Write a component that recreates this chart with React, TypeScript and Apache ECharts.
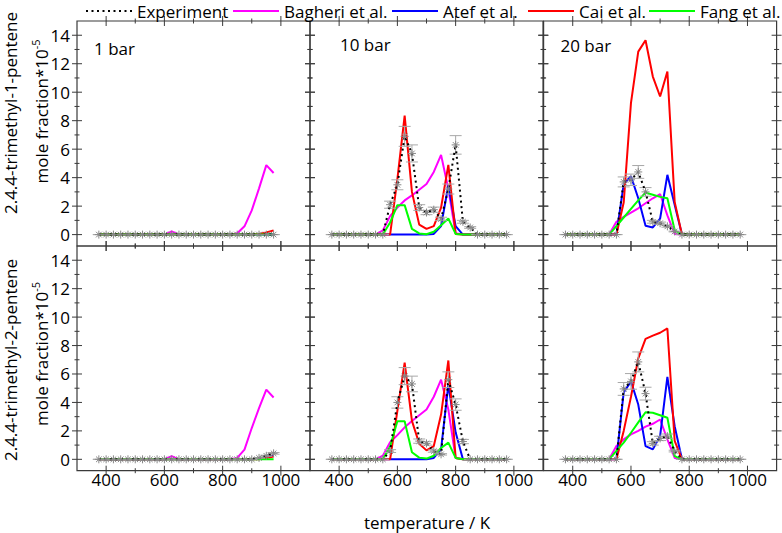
import React, { useEffect, useRef } from "react";
import * as echarts from "echarts";

// ---------- data ----------
const temperature = [375, 400, 425, 450, 475, 500, 525, 550, 575, 600, 625, 650, 675, 700, 725, 750, 775, 800, 825, 850, 875, 900, 925, 950, 975];

const pressureLabels = ["1 bar", "10 bar", "20 bar"];
const speciesLabels = ["2.4.4-trimethyl-1-pentene", "2.4.4-trimethyl-2-pentene"];
const xMajorTicks = [400, 600, 800, 1000];
const xMinorTicks = [500, 700, 900];
const yMajorTicks = [0, 2, 4, 6, 8, 10, 12, 14];
const yMinorTicks = [1, 3, 5, 7, 9, 11, 13];
const legendNames = ["Experiment", "Bagheri et al.", "Atef et al.", "Cai et al.", "Fang et al."];
const modelColors = ["#ff00ff", "#0000ff", "#ff0000", "#00ff00"];

// 2,4,4-trimethyl-1-pentene, 1 bar
const exp_p1_1bar = [0, 0, 0, 0, 0, 0, 0, 0, 0, 0, 0, 0, 0, 0, 0, 0, 0, 0, 0, 0, 0, 0, 0, 0, 0];
const err_p1_1bar = [0, 0, 0, 0, 0, 0, 0, 0, 0, 0, 0, 0, 0, 0, 0, 0, 0, 0, 0, 0, 0, 0, 0, 0, 0];
const bagheri_p1_1bar = [0, 0, 0, 0, 0, 0, 0, 0, 0, 0, 0.23, 0, 0, 0, 0, 0, 0, 0, 0, 0.1, 0.58, 1.7, 3.25, 4.88, 4.33];
const atef_p1_1bar = [0, 0, 0, 0, 0, 0, 0, 0, 0, 0, 0, 0, 0, 0, 0, 0, 0, 0, 0, 0, 0, 0, 0, 0, 0];
const cai_p1_1bar = [0, 0, 0, 0, 0, 0, 0, 0, 0, 0, 0, 0, 0, 0, 0, 0, 0, 0, 0, 0, 0, 0, 0.05, 0.15, 0.3];
const fang_p1_1bar = [0, 0, 0, 0, 0, 0, 0, 0, 0, 0, 0, 0, 0, 0, 0, 0, 0, 0, 0, 0, 0, 0, 0, 0, 0];

// 2,4,4-trimethyl-1-pentene, 10 bar
const exp_p1_10bar = [0, 0, 0, 0, 0, 0, 0, 0, 2.1, 3.5, 6.9, 5.7, 1.9, 1.55, 1.75, 1.1, 3.2, 6.3, 0.9, 0.5, 0, 0, 0, 0, 0];
const err_p1_10bar = [0, 0, 0, 0, 0, 0, 0, 0, 0.25, 0.35, 0.7, 0.6, 0.2, 0.15, 0.18, 0.12, 0.35, 0.65, 0.1, 0.06, 0, 0, 0, 0, 0];
const bagheri_p1_10bar = [0, 0, 0, 0, 0, 0, 0, 0.3, 1.3, 1.9, 2.4, 2.75, 3.15, 3.55, 4.4, 5.6, 3.2, 0.1, 0, 0, 0, 0, 0, 0, 0];
const atef_p1_10bar = [0, 0, 0, 0, 0, 0, 0, 0, 0, 0, 0, 0, 0, 0, 0.05, 0.6, 3.45, 0.6, 0, 0, 0, 0, 0, 0, 0];
const cai_p1_10bar = [0, 0, 0, 0, 0, 0, 0, 0, 0, 3.9, 8.35, 3.0, 0.7, 0.4, 0.6, 1.9, 4.9, 0.05, 0, 0, 0, 0, 0, 0, 0];
const fang_p1_10bar = [0, 0, 0, 0, 0, 0, 0, 0, 0.85, 2.07, 2.07, 0.4, 0.08, 0.03, 0.2, 0.65, 1.13, 0.05, 0, 0, 0, 0, 0, 0, 0];

// 2,4,4-trimethyl-1-pentene, 20 bar
const exp_p1_20bar = [0, 0, 0, 0, 0, 0, 0, 0, 3.7, 3.85, 4.4, 3.0, 0.9, 0.8, 0.58, 0.22, 0, 0, 0, 0, 0, 0, 0, 0, 0];
const err_p1_20bar = [0, 0, 0, 0, 0, 0, 0, 0, 0.35, 0.4, 0.45, 0.3, 0.1, 0.08, 0.06, 0.03, 0, 0, 0, 0, 0, 0, 0, 0, 0];
const bagheri_p1_20bar = [0, 0, 0, 0, 0, 0, 0, 0.9, 1.25, 1.55, 1.85, 2.2, 2.55, 2.85, 1.35, 0.05, 0, 0, 0, 0, 0, 0, 0, 0, 0];
const atef_p1_20bar = [0, 0, 0, 0, 0, 0, 0, 0, 3.55, 4.1, 2.55, 0.62, 0.5, 1.12, 4.2, 2.1, 0, 0, 0, 0, 0, 0, 0, 0, 0];
const cai_p1_20bar = [0, 0, 0, 0, 0, 0, 0, 0, 2.25, 9.25, 12.85, 13.65, 11.1, 9.7, 11.45, 2.3, 0, 0, 0, 0, 0, 0, 0, 0, 0];
const fang_p1_20bar = [0, 0, 0, 0, 0, 0, 0, 0.6, 1.2, 1.8, 2.4, 2.95, 2.8, 2.65, 2.55, 0.3, 0, 0, 0, 0, 0, 0, 0, 0, 0];

// 2,4,4-trimethyl-2-pentene, 1 bar
const exp_p2_1bar = [0, 0, 0, 0, 0, 0, 0, 0, 0, 0, 0, 0, 0, 0, 0, 0, 0, 0, 0, 0, 0, 0, 0.1, 0.25, 0.42];
const err_p2_1bar = [0, 0, 0, 0, 0, 0, 0, 0, 0, 0, 0, 0, 0, 0, 0, 0, 0, 0, 0, 0, 0, 0, 0.02, 0.04, 0.06];
const bagheri_p2_1bar = [0, 0, 0, 0, 0, 0, 0, 0, 0, 0, 0.23, 0, 0, 0, 0, 0, 0, 0, 0, 0.1, 0.68, 2.2, 3.6, 4.9, 4.35];
const atef_p2_1bar = [0, 0, 0, 0, 0, 0, 0, 0, 0, 0, 0, 0, 0, 0, 0, 0, 0, 0, 0, 0, 0, 0, 0.05, 0.15, 0.25];
const cai_p2_1bar = [0, 0, 0, 0, 0, 0, 0, 0, 0, 0, 0, 0, 0, 0, 0, 0, 0, 0, 0, 0, 0, 0, 0, 0.1, 0.2];
const fang_p2_1bar = [0, 0, 0, 0, 0, 0, 0, 0, 0, 0, 0, 0, 0, 0, 0, 0, 0, 0, 0, 0, 0, 0, 0, 0, 0];

// 2,4,4-trimethyl-2-pentene, 10 bar
const exp_p2_10bar = [0, 0, 0, 0, 0, 0, 0, 0, 0.58, 4.0, 5.85, 5.3, 1.28, 1.12, 0.58, 0.35, 5.6, 3.85, 1.25, 0, 0, 0, 0, 0, 0];
const err_p2_10bar = [0, 0, 0, 0, 0, 0, 0, 0, 0.1, 0.4, 0.6, 0.55, 0.15, 0.12, 0.08, 0.05, 0.55, 0.4, 0.15, 0, 0, 0, 0, 0, 0];
const bagheri_p2_10bar = [0, 0, 0, 0, 0, 0, 0, 0.25, 1.2, 1.7, 2.25, 2.7, 3.1, 3.5, 4.4, 5.6, 3.5, 0.1, 0, 0, 0, 0, 0, 0, 0];
const atef_p2_10bar = [0, 0, 0, 0, 0, 0, 0, 0, 0, 0, 0, 0, 0, 0, 0.1, 0.7, 5.25, 1.9, 0, 0, 0, 0, 0, 0, 0];
const cai_p2_10bar = [0, 0, 0, 0, 0, 0, 0, 0, 0, 3.4, 6.8, 2.7, 1.1, 0.63, 0.93, 3.15, 6.95, 0.1, 0, 0, 0, 0, 0, 0, 0];
const fang_p2_10bar = [0, 0, 0, 0, 0, 0, 0, 0, 0.9, 2.68, 2.68, 0.5, 0.12, 0.05, 0.25, 0.8, 1.17, 0.1, 0, 0, 0, 0, 0, 0, 0];

// 2,4,4-trimethyl-2-pentene, 20 bar
const exp_p2_20bar = [0, 0, 0, 0, 0, 0, 0, 0, 4.95, 5.48, 6.85, 4.62, 1.12, 1.47, 1.63, 0.58, 0, 0, 0, 0, 0, 0, 0, 0, 0];
const err_p2_20bar = [0, 0, 0, 0, 0, 0, 0, 0, 0.45, 0.55, 0.7, 0.45, 0.12, 0.15, 0.15, 0.06, 0, 0, 0, 0, 0, 0, 0, 0, 0];
const bagheri_p2_20bar = [0, 0, 0, 0, 0, 0, 0, 0.93, 1.4, 1.75, 2.0, 2.3, 2.5, 2.8, 1.4, 0.1, 0, 0, 0, 0, 0, 0, 0, 0, 0];
const atef_p2_20bar = [0, 0, 0, 0, 0, 0, 0, 0, 4.7, 5.48, 3.85, 0.93, 0.7, 1.63, 5.79, 2.33, 0, 0, 0, 0, 0, 0, 0, 0, 0];
const cai_p2_20bar = [0, 0, 0, 0, 0, 0, 0, 0, 2.0, 4.4, 7.1, 8.47, 8.7, 8.9, 9.2, 1.3, 0, 0, 0, 0, 0, 0, 0, 0, 0];
const fang_p2_20bar = [0, 0, 0, 0, 0, 0, 0, 0.6, 1.17, 1.87, 2.6, 3.31, 3.27, 3.1, 2.92, 0.23, 0, 0, 0, 0, 0, 0, 0, 0, 0];

const panels = [
  { exp: exp_p1_1bar, err: err_p1_1bar, models: [bagheri_p1_1bar, atef_p1_1bar, cai_p1_1bar, fang_p1_1bar] },
  { exp: exp_p1_10bar, err: err_p1_10bar, models: [bagheri_p1_10bar, atef_p1_10bar, cai_p1_10bar, fang_p1_10bar] },
  { exp: exp_p1_20bar, err: err_p1_20bar, models: [bagheri_p1_20bar, atef_p1_20bar, cai_p1_20bar, fang_p1_20bar] },
  { exp: exp_p2_1bar, err: err_p2_1bar, models: [bagheri_p2_1bar, atef_p2_1bar, cai_p2_1bar, fang_p2_1bar] },
  { exp: exp_p2_10bar, err: err_p2_10bar, models: [bagheri_p2_10bar, atef_p2_10bar, cai_p2_10bar, fang_p2_10bar] },
  { exp: exp_p2_20bar, err: err_p2_20bar, models: [bagheri_p2_20bar, atef_p2_20bar, cai_p2_20bar, fang_p2_20bar] },
];

// ---------- layout ----------
const FONT = "'Open Sans', 'DejaVu Sans', sans-serif";
const FS = 17;
const colLeft = [77, 310, 543.6];
const rowTop = [21, 246];
const panelW = 233;
const panelH = [225, 224.7];
const X_MIN = 300, X_MAX = 1100, Y_MIN = -0.8, Y_MAX = 15;
const FRAME = "#3a3a3a";
const STAR = "path://M5,0L5,10M0,5L10,5M1.5,1.5L8.5,8.5M8.5,1.5L1.5,8.5";

function buildOption() {
  const grid: any[] = [];
  const xAxis: any[] = [];
  const yAxis: any[] = [];
  const series: any[] = [];

  panels.forEach((p, g) => {
    const row = Math.floor(g / 3);
    const col = g % 3;
    grid.push({
      left: colLeft[col], top: rowTop[row], width: panelW, height: panelH[row],
      show: true, borderColor: FRAME, borderWidth: 1.2, backgroundColor: "transparent",
    });
    xAxis.push({
      type: "value", gridIndex: g, position: "bottom", min: X_MIN, max: X_MAX,
      axisLine: { show: false, onZero: false }, axisTick: { show: false }, splitLine: { show: false },
      axisLabel: row === 1
        ? { show: true, customValues: xMajorTicks, margin: 0, fontSize: FS, color: "#000", fontFamily: FONT, formatter: (v: number) => String(v) }
        : { show: false },
    });
    yAxis.push({
      type: "value", gridIndex: g, position: "left", min: Y_MIN, max: Y_MAX,
      axisLine: { show: false, onZero: false }, axisTick: { show: false }, splitLine: { show: false },
      axisLabel: col === 0
        ? { show: true, customValues: yMajorTicks, margin: 7, fontSize: FS, color: "#000", fontFamily: FONT, formatter: (v: number) => String(v) }
        : { show: false },
    });

    // frame ticks, crossing the border, placed through the axis scales
    series.push({
      type: "custom", xAxisIndex: g, yAxisIndex: g, silent: true, z: 1, clip: false,
      data: [
        ...xMajorTicks.map((v) => [v, 0, 0]),
        ...xMinorTicks.map((v) => [v, 0, 1]),
        ...yMajorTicks.map((v) => [X_MIN, v, 2]),
        ...yMinorTicks.map((v) => [X_MIN, v, 3]),
      ],
      renderItem: (params: any, api: any) => {
        const cs = params.coordSys;
        const kind = api.value(2);
        const len = kind % 2 === 0 ? 5 : 2.5;
        const st = { stroke: FRAME, lineWidth: 1, fill: null };
        if (kind < 2) {
          const x = api.coord([api.value(0), 0])[0];
          const yb = cs.y + cs.height;
          return {
            type: "group",
            children: [
              { type: "line", shape: { x1: x, y1: cs.y - len, x2: x, y2: cs.y + len }, style: st },
              { type: "line", shape: { x1: x, y1: yb - len, x2: x, y2: yb + len }, style: st },
            ],
          };
        }
        const y = api.coord([X_MIN, api.value(1)])[1];
        const xr = cs.x + cs.width;
        return {
          type: "group",
          children: [
            { type: "line", shape: { x1: cs.x - len, y1: y, x2: cs.x + len, y2: y }, style: st },
            { type: "line", shape: { x1: xr - len, y1: y, x2: xr + len, y2: y }, style: st },
          ],
        };
      },
    });

    p.models.forEach((vals, m) => {
      series.push({
        type: "line", name: legendNames[m + 1], xAxisIndex: g, yAxisIndex: g,
        data: temperature.map((t, i) => [t, vals[i]]),
        symbol: "none", lineStyle: { color: modelColors[m], width: 2 }, itemStyle: { color: modelColors[m] },
        z: 2 + m,
      });
    });
    series.push({
      type: "custom", xAxisIndex: g, yAxisIndex: g, z: 7, silent: true,
      data: temperature.map((t, i) => [t, p.exp[i], p.err[i]]),
      renderItem: (_params: any, api: any) => {
        const x = api.value(0), y = api.value(1), e = api.value(2);
        const a = api.coord([x, y + e]);
        const b = api.coord([x, y - e]);
        const hw = 6;
        const st = { stroke: "#a8a8a8", lineWidth: 1, fill: null };
        return {
          type: "group",
          children: [
            { type: "line", shape: { x1: a[0], y1: a[1], x2: b[0], y2: b[1] }, style: st },
            { type: "line", shape: { x1: a[0] - hw, y1: a[1], x2: a[0] + hw, y2: a[1] }, style: st },
            { type: "line", shape: { x1: b[0] - hw, y1: b[1], x2: b[0] + hw, y2: b[1] }, style: st },
          ],
        };
      },
    });
    series.push({
      type: "line", name: legendNames[0], xAxisIndex: g, yAxisIndex: g,
      data: temperature.map((t, i) => [t, p.exp[i]]),
      symbol: STAR, symbolSize: 8, showAllSymbol: true,
      lineStyle: { color: "#000", width: 2, type: [2, 3.5] },
      itemStyle: { color: "#888", borderColor: "#888", borderWidth: 1 },
      z: 8,
    });
  });

  const legendLefts = [85, 232, 391, 527, 648];
  const legend = legendNames.map((name, k) => ({
    data: [name], left: legendLefts[k], top: 2.5, padding: 0, itemWidth: 46, itemHeight: 11,
    selectedMode: false, textStyle: { fontSize: FS, color: "#000", fontFamily: FONT, lineHeight: 17 },
    itemStyle: k === 0 ? undefined : { color: "rgba(0,0,0,0)", borderColor: "rgba(0,0,0,0)", opacity: 0 },
  }));

  const txt = (text: string, x: number, y: number, align: string, rotation = 0, extra: any = {}) => ({
    type: "text", x, y, rotation, silent: true,
    style: { text, fontSize: FS, fontFamily: FONT, fill: "#000", align, verticalAlign: "middle", textAlign: align, textVerticalAlign: "middle", ...extra },
  });
  const richMole = {
    text: "{a|mole fraction*10}{b|-5}",
    rich: {
      a: { fontSize: FS, fontFamily: FONT, fill: "#000", color: "#000", lineHeight: 20, verticalAlign: "bottom" },
      b: { fontSize: 11, fontFamily: FONT, fill: "#000", color: "#000", lineHeight: 12, verticalAlign: "top" },
    },
  };

  const graphic = [
    txt(speciesLabels[0], 10.5, 113, "center", Math.PI / 2),
    txt("", 39.5, 111.5, "center", Math.PI / 2, richMole),
    txt(speciesLabels[1], 10.5, 360, "center", Math.PI / 2),
    txt("", 39.5, 354, "center", Math.PI / 2, richMole),
    txt(pressureLabels[0], 94, 48.5, "left"),
    txt(pressureLabels[1], 340, 44, "left"),
    txt(pressureLabels[2], 560.5, 45.5, "left"),
    txt("temperature / K", 427, 522, "center"),
  ];

  return {
    animation: false,
    backgroundColor: "#fff",
    textStyle: { fontFamily: FONT },
    grid, xAxis, yAxis, series, legend, graphic,
  };
}

export default function App() {
  const ref = useRef<HTMLDivElement>(null);
  useEffect(() => {
    if (!ref.current) return;
    const chart = echarts.init(ref.current, undefined, { renderer: "svg" });
    chart.setOption(buildOption() as any);
    return () => chart.dispose();
  }, []);
  return <div ref={ref} style={{ position: "fixed", left: 0, top: 0, width: 782, height: 533 }} />;
}
